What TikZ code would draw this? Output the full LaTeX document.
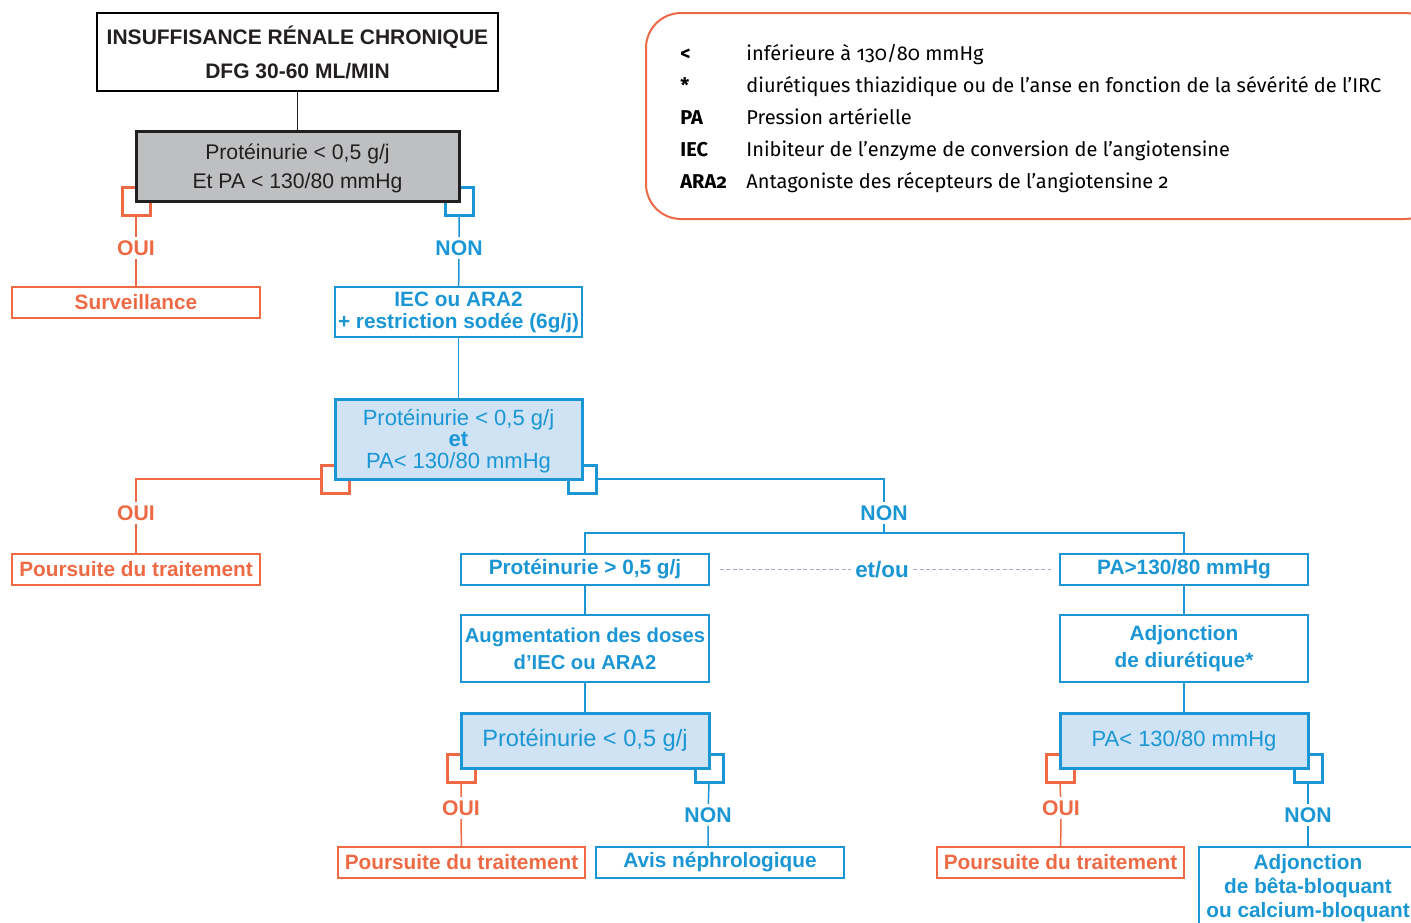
\documentclass[tikz,border=0pt]{standalone}
\usepackage{fontspec}
\setmainfont{Liberation Sans}
\newfontfamily\legende[Numbers=OldStyle]{Fira Sans}
\usetikzlibrary{calc,backgrounds}

\definecolor{orangeirc}{HTML}{EE6A45}
\definecolor{bleuirc}{HTML}{1B96D4}
\definecolor{bleuclair}{HTML}{CFE3F5}
\definecolor{grisirc}{HTML}{BEBFC1}
\definecolor{noirirc}{HTML}{231F20}
\definecolor{pointille}{HTML}{A8A8C8}

\newcommand{\coin}[2]{\draw[line width=1.5pt,#2] ($(#1)+(-7pt,-7pt)$) rectangle ($(#1)+(7pt,7pt)$);}

\begin{document}
\begin{tikzpicture}[x=0.5pt,y=-0.5pt,
    oline/.style={draw=orangeirc, line width=0.75pt},
    bline/.style={draw=bleuirc, line width=0.75pt},
    boite/.style={draw, line width=0.75pt, inner sep=0pt, outer sep=0pt, minimum width=124pt, minimum height=15.5pt, align=center, font=\bfseries\fontsize{10.4}{13.5}\selectfont},
    oboite/.style={boite, draw=orangeirc, text=orangeirc},
    bboite/.style={boite, draw=bleuirc, text=bleuirc},
    testbox/.style={draw=bleuirc, line width=1.5pt, fill=bleuclair, text=bleuirc, inner sep=0pt, outer sep=0pt, minimum width=124pt, align=center, font=\fontsize{11}{10.75}\selectfont},
    oui/.style={text=orangeirc, inner sep=1.5pt, font=\bfseries\fontsize{10.6}{12}\selectfont},
    non/.style={oui, text=bleuirc},
    cle/.style={anchor=base west, inner sep=0pt, font=\legende\bfseries\fontsize{10}{12}\selectfont},
    def/.style={anchor=base west, inner sep=0pt, font=\legende\fontsize{10}{12}\selectfont}]
    \useasboundingbox (0,0) rectangle (1411,922);
    \clip (0,0) rectangle (1411,922);

    % legende
    \draw[draw=orangeirc, line width=1pt, rounded corners=17.5pt] (646,13) rectangle (1440,219);
    \node[cle] (k1) at (680,60) {<};
    \node[cle] (k2) at (680,92) {*};
    \node[cle] (k3) at (680,124) {PA};
    \node[cle] (k4) at (680,156) {IEC};
    \node[cle] (k5) at (680,188) {ARA2};
    \node[def] (t1) at (746,60) {inférieure à 130/80 mmHg};
    \node[def] (t2) at (746,92) {diurétiques thiazidique ou de l’anse en fonction de la sévérité de l’IRC};
    \node[def] (t3) at (746,124) {Pression artérielle};
    \node[def] (t4) at (746,156) {Inibiteur de l’enzyme de conversion de l’angiotensine};
    \node[def] (t5) at (746,188) {Antagoniste des récepteurs de l’angiotensine 2};

    % haut
    \node[boite, text=noirirc, minimum width=200.5pt, minimum height=39pt, font=\bfseries\fontsize{10.5}{17}\selectfont] (irc) at (297.5,52) {INSUFFISANCE RÉNALE CHRONIQUE\\DFG 30-60 ML/MIN};
    \node[draw=noirirc, line width=1.5pt, fill=grisirc, text=noirirc, inner sep=0pt, outer sep=0pt, minimum width=161.5pt, minimum height=35pt, align=center, font=\fontsize{10.6}{14.5}\selectfont] (pg) at (297.5,166) {\rule{0pt}{10pt}Protéinurie < 0,5 g/j\\Et PA < 130/80 mmHg};
    \node[oui] (oui1) at (136,248) {OUI};
    \node[non] (non1) at (459,248) {NON};
    \node[oboite] (surv) at (136,302.5) {Surveillance};
    \node[bboite, minimum width=123.5pt, minimum height=25pt, font=\bfseries\fontsize{10.4}{11}\selectfont] (iec) at (458.5,312) {IEC ou ARA2\\+ restriction sodée (6g/j)};
    \node[testbox, minimum width=123.5pt, minimum height=40pt] (pa1) at (458.5,439) {\rule{0pt}{10pt}Protéinurie < 0,5 g/j\\\textbf{et}\\PA< 130/80 mmHg};

    % milieu
    \node[oui] (oui2) at (136,513) {OUI};
    \node[non] (non2) at (884,513) {NON};
    \coordinate (split) at (884,533);
    \node[oboite] (pours1) at (136,569.5) {Poursuite du traitement};
    \node[bboite] (prot) at (585,569.5) {Protéinurie > 0,5 g/j};
    \node[bboite] (pa) at (1184,569.5) {PA>130/80 mmHg};
    \node[text=bleuirc, inner sep=2pt, font=\bfseries\fontsize{11.2}{12}\selectfont] (etou) at (882,569.5) {et/ou};
    \node[bboite, minimum height=33.5pt, font=\bfseries\fontsize{10.1}{13.5}\selectfont] (aug) at (585,648.5) {Augmentation des doses\\d’IEC ou ARA2};
    \node[bboite, minimum height=33.5pt] (adj) at (1184,648.5) {Adjonction\\de diurétique*};
    \node[testbox, minimum height=27.5pt, font=\fontsize{11.8}{12}\selectfont] (pa2) at (585,740.5) {Protéinurie < 0,5 g/j};
    \node[testbox, minimum height=27.5pt] (pa3) at (1184,740.5) {PA< 130/80 mmHg};

    % bas
    \node[oui] (oui3) at (461,808) {OUI};
    \node[non] (non3) at (708,815) {NON};
    \node[oui] (oui4) at (1061,808) {OUI};
    \node[non] (non4) at (1308,815) {NON};
    \node[oboite, minimum width=123.5pt] (pours2) at (461.5,862.5) {Poursuite du traitement};
    \node[bboite] (avis) at (720,862.5) {Avis néphrologique};
    \node[oboite, minimum width=123.5pt] (pours3) at (1060.5,862.5) {Poursuite du traitement};
    \node[bboite, minimum width=109pt, minimum height=41pt, font=\bfseries\fontsize{10.4}{12}\selectfont] (beta) at (1308,888) {Adjonction\\de bêta-bloquant\\ou calcium-bloquant};

    % equerres sous les tests
    \begin{scope}[on background layer]
    \coin{pg.south west}{orangeirc}
    \coin{pg.south east}{bleuirc}
    \coin{pa1.south west}{orangeirc}
    \coin{pa1.south east}{bleuirc}
    \coin{pa2.south west}{orangeirc}
    \coin{pa2.south east}{bleuirc}
    \coin{pa3.south west}{orangeirc}
    \coin{pa3.south east}{bleuirc}
    \end{scope}

    % liens
    \draw[line width=0.75pt, noirirc] (irc) -- (pg);
    \draw[oline] ($(pg.south west)+(0,-7pt)$) -- (oui1) -- (surv);
    \draw[bline] ($(pg.south east)+(0,-7pt)$) -- (non1) -- (iec);
    \draw[bline] (iec) -- (pa1);
    \draw[oline] ($(pa1.south west)+(-7pt,0)$) -| (oui2);
    \draw[oline] (oui2) -- (pours1);
    \draw[bline] ($(pa1.south east)+(7pt,0)$) -| (non2);
    \draw[bline] (non2) -- (split);
    \draw[bline] (prot) |- (split) -| (pa);
    \draw[draw=pointille, dash pattern=on 2pt off 1.2pt, line width=0.5pt] ([xshift=5.5pt]prot.east) -- (etou) -- ([xshift=-4.5pt]pa.west);
    \draw[bline] (prot) -- (aug);
    \draw[bline] (aug) -- (pa2);
    \draw[bline] (pa) -- (adj);
    \draw[bline] (adj) -- (pa3);
    \draw[oline] ($(pa2.south west)+(0,-7pt)$) -- (oui3) -- (pours2);
    \draw[bline] ($(pa2.south east)+(0,-7pt)$) -- (non3) -- (non3 |- avis.north);
    \draw[oline] ($(pa3.south west)+(0,-7pt)$) -- (oui4) -- (pours3);
    \draw[bline] ($(pa3.south east)+(0,-7pt)$) -- (non4) -- (beta);
\end{tikzpicture}
\end{document}
